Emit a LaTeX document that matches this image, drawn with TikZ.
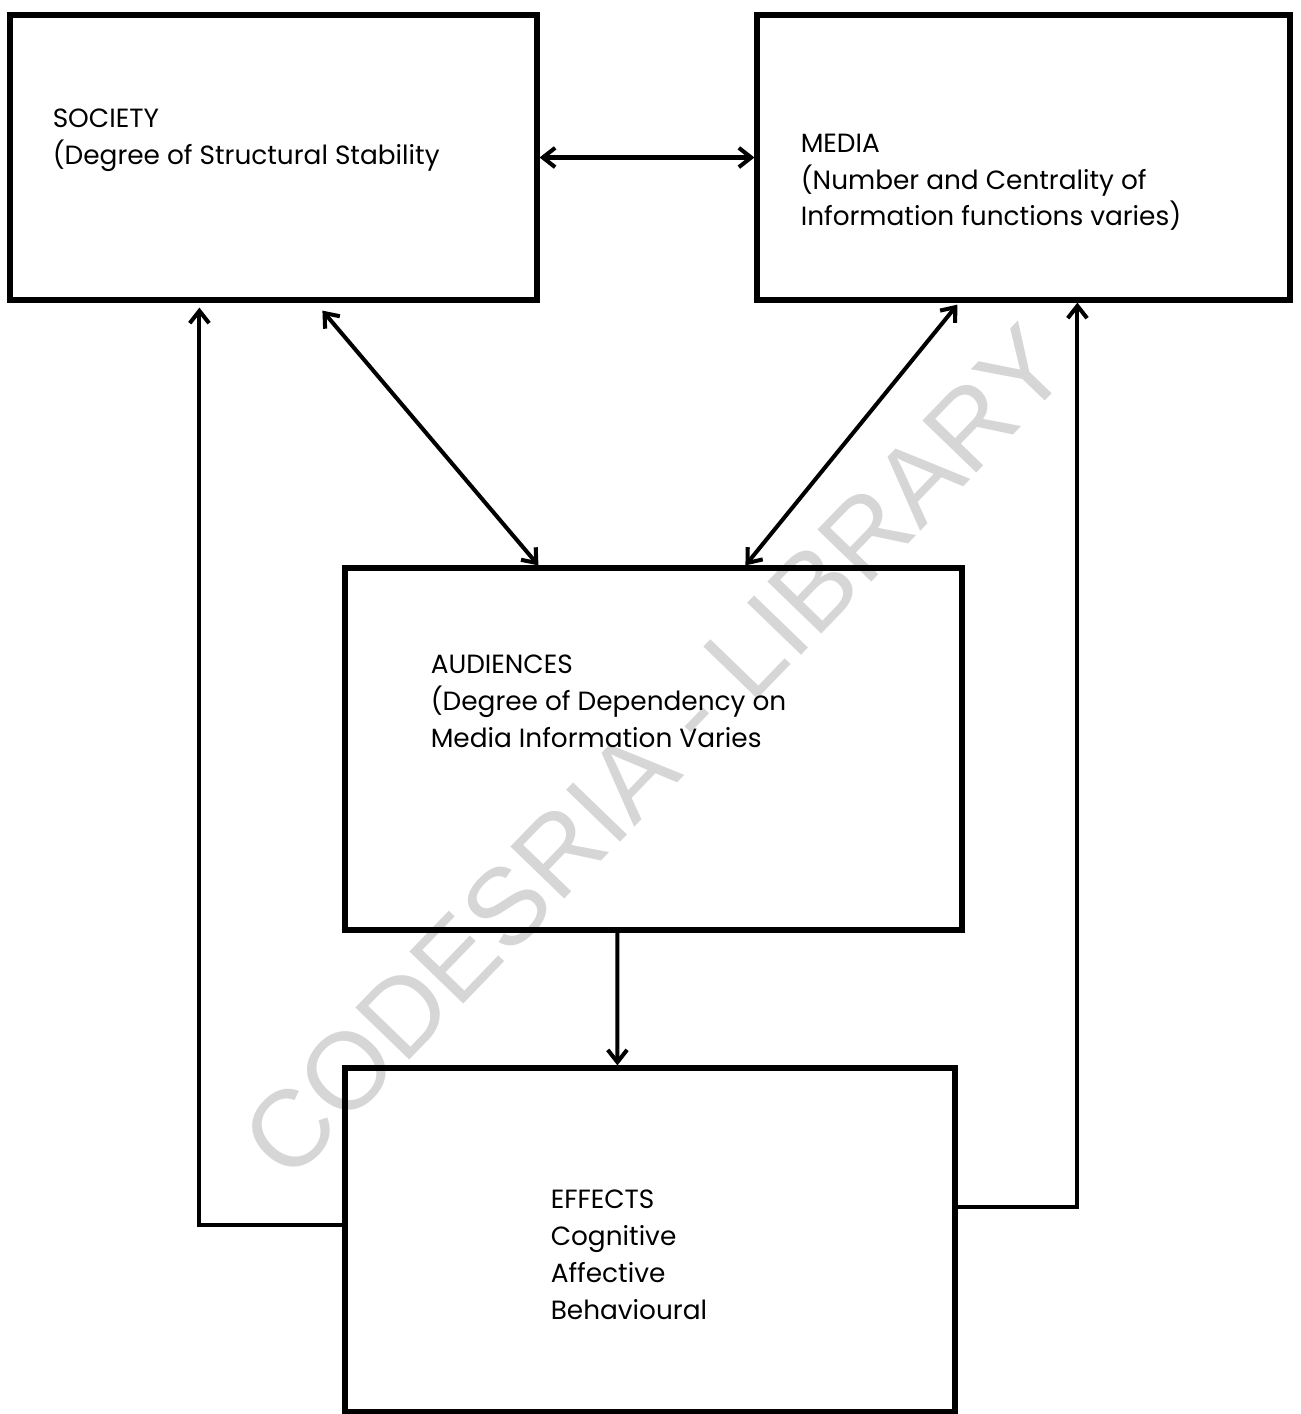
\documentclass[tikz,border=0pt]{standalone}
\usepackage{fontspec}
\setmainfont{Poppins}
\newfontfamily\wmfont{Liberation Sans}
\usetikzlibrary{arrows.meta,calc}

\begin{document}
\begin{tikzpicture}[
  x=0.02cm, y=-0.02cm,
  >={Straight Barb[length=7pt,width=11pt]},
  box/.style={rectangle, draw, line width=3pt, inner sep=0pt},
  lab/.style={anchor=north west, align=left, inner sep=0pt, font=\fontsize{15}{21}\selectfont},
  link/.style={line width=2.3pt},
  wm/.style={text=black!16, font=\wmfont\fontsize{62}{62}\selectfont, rotate=46}
]
\useasboundingbox (0,0) rectangle (1301,1414);

% watermark behind everything
\node[wm] (wm) at (655,752) {CODESRIA - LIBRARY};

% the four boxes
\node[box, minimum width=10.54cm, minimum height=5.7cm]  (soc) at (273.5,157.5) {};
\node[box, minimum width=10.66cm, minimum height=5.7cm]  (med) at (1023.5,157.5) {};
\node[box, minimum width=12.34cm, minimum height=7.24cm] (aud) at (653.5,749) {};
\node[box, minimum width=12.2cm,  minimum height=6.88cm] (eff) at (650,1240) {};

\node[lab] (soc-t) at ([shift={(45,96)}]soc.north west)
  {SOCIETY\\(Degree of Structural Stability};
\node[lab] (med-t) at ([shift={(46,121)}]med.north west)
  {MEDIA\\(Number and Centrality of\\Information functions varies)};
\node[lab] (aud-t) at ([shift={(88,89)}]aud.north west)
  {AUDIENCES\\(Degree of Dependency on\\Media Information Varies};
\node[lab] (eff-t) at ([shift={(208,124)}]eff.north west)
  {EFFECTS\\Cognitive\\Affective\\Behavioural};

% links
\draw[link, <->] (soc.east) -- (med.west);
\draw[link, <->] ([shift={(315,8)}]soc.south west) -- ([shift={(196,0)}]aud.north west);
\draw[link, <->] ([shift={(203,2)}]med.south west) -- ([shift={(403,0)}]aud.north west);
\draw[link, ->] ([shift={(275,0)}]aud.south west) -- ([shift={(275,0)}]eff.north west);

% feedback from effects
\draw[link, ->] ([shift={(0,-15)}]eff.west) -| ([shift={(192,5)}]soc.south west);
\draw[link, ->] ([shift={(0,-33)}]eff.east) -| ([shift={(323,0)}]med.south west);
\end{tikzpicture}
\end{document}
